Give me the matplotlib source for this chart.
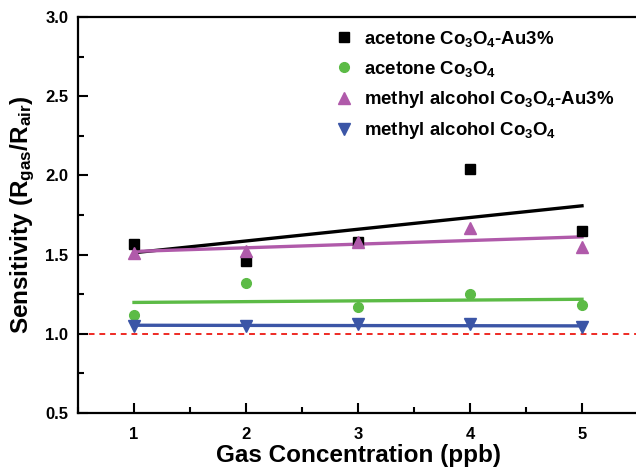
import numpy as np
import matplotlib
matplotlib.use("Agg")
import matplotlib.pyplot as plt
from matplotlib.ticker import MultipleLocator

plt.rcParams['font.family'] = ['Liberation Sans', 'DejaVu Sans']
plt.rcParams['font.weight'] = 'bold'
plt.rcParams['mathtext.fontset'] = 'custom'
plt.rcParams['mathtext.rm'] = 'Liberation Sans:bold'
plt.rcParams['mathtext.bf'] = 'Liberation Sans:bold'
plt.rcParams['mathtext.default'] = 'bf'

# gas concentration (ppb)
conc = [1, 2, 3, 4, 5]
# sensitivity values
acetone_au = [1.57, 1.46, 1.58, 2.04, 1.65]
acetone = [1.12, 1.32, 1.17, 1.25, 1.18]
methanol_au = [1.51, 1.52, 1.58, 1.67, 1.55]
methanol = [1.05, 1.05, 1.06, 1.06, 1.04]

labels = ["acetone Co$_3$O$_4$-Au3%",
          "acetone Co$_3$O$_4$",
          "methyl alcohol Co$_3$O$_4$-Au3%",
          "methyl alcohol Co$_3$O$_4$"]
colors = ["#000000", "#5cbb46", "#b05aaa", "#3b55a6"]
markers = ["s", "o", "^", "v"]
msizes = [6.5, 7, 8, 8]

fig = plt.figure(figsize=(6.36, 4.68), dpi=100)
ax = fig.add_axes([78/636, 55/468, 560/636, 396/468])

ax.axhline(1.0, color="#ee2a24", lw=1.4, ls=(0, (3, 2.5)), zorder=1)

series = [acetone_au, acetone, methanol_au, methanol]
x = np.array(conc)
for ys, c, m, ms, lab in zip(series, colors, markers, msizes, labels):
    ax.plot(conc, ys, ls="none", marker=m, color=c, ms=ms, label=lab, zorder=3)
    k, b = np.polyfit(x, ys, 1)
    ax.plot(x, k * x + b, color=c, lw=2.4, zorder=2)

ax.set_xlim(0.5, 5.5)
ax.set_ylim(0.5, 3.0)
ax.xaxis.set_major_locator(MultipleLocator(1))
ax.xaxis.set_minor_locator(MultipleLocator(0.5))
ax.yaxis.set_major_locator(MultipleLocator(0.5))
ax.yaxis.set_minor_locator(MultipleLocator(0.25))
ax.yaxis.set_major_formatter(matplotlib.ticker.FormatStrFormatter('%.1f'))
ax.tick_params(which="both", direction="in", width=1.5, labelsize=12)
ax.tick_params(axis="y", pad=7)
ax.tick_params(axis="x", pad=10)
ax.tick_params(which="major", length=7)
ax.tick_params(which="minor", length=4)
for s in ax.spines.values():
    s.set_linewidth(1.6)

ax.set_xlabel("Gas Concentration (ppb)", fontsize=17.5, fontweight="bold", labelpad=1.5)
ax.set_ylabel("Sensitivity (R$_{gas}$/R$_{air}$)", fontsize=17.5, fontweight="bold", labelpad=6)

ax.legend(loc="upper left", bbox_to_anchor=(316/636, 1 - 12/468), bbox_transform=fig.transFigure,
          frameon=False, fontsize=13.4, handletextpad=0.5, labelspacing=0.55, handlelength=1.2)

fig.savefig("out.png", dpi=100)
